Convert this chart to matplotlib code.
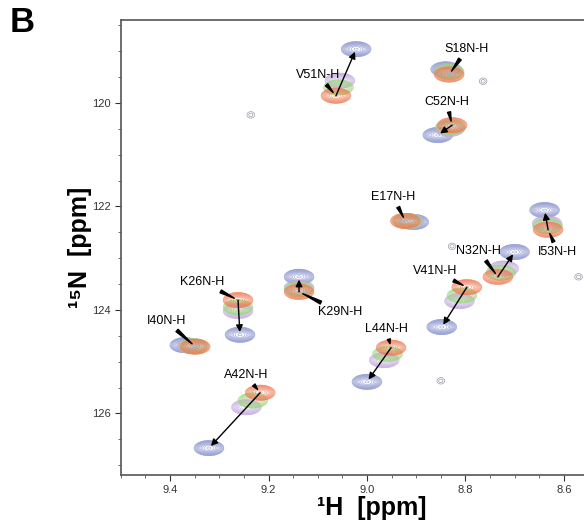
import numpy as np
import matplotlib.pyplot as plt

plt.rcParams['font.family'] = ['Liberation Sans', 'DejaVu Sans']

# residue labels and peak positions (1H ppm, 15N ppm) per titration step
residues = ['V51', 'S18', 'C52', 'E17', 'I53', 'N32', 'V41', 'L44', 'K26', 'K29', 'I40', 'A42']
red_h = [9.063, 8.833, 8.827, 8.922, 8.632, 8.734, 8.797, 8.951, 9.262, 9.138, 9.349, 9.217]
red_n = [119.86, 119.45, 120.43, 122.28, 122.45, 123.36, 123.56, 124.73, 123.81, 123.65, 124.71, 125.60]
green_h = [9.058, 8.833, 8.830, 8.918, 8.633, 8.728, 8.807, 8.958, 9.262, 9.138, 9.352, 9.232]
green_n = [119.70, 119.40, 120.47, 122.28, 122.38, 123.28, 123.72, 124.85, 123.95, 123.60, 124.70, 125.75]
purple_h = [9.055, 8.835, 8.832, 8.915, 8.634, 8.722, 8.812, 8.965, 9.262, 9.138, 9.356, 9.245]
purple_n = [119.57, 119.38, 120.50, 122.29, 122.33, 123.20, 123.83, 124.97, 124.02, 123.57, 124.70, 125.88]
blue_h = [9.022, 8.840, 8.856, 8.905, 8.639, 8.700, 8.848, 9.000, 9.258, 9.138, 9.370, 9.321]
blue_n = [118.96, 119.35, 120.62, 122.30, 122.07, 122.88, 124.33, 125.39, 124.48, 123.36, 124.68, 126.67]
has_arrow = [True, False, True, False, True, True, True, True, True, True, False, True]

# label positions
label_h = [9.099, 8.797, 8.838, 8.947, 8.612, 8.773, 8.862, 8.961, 9.335, 9.055, 9.408, 9.246]
label_n = [119.46, 118.96, 119.98, 121.82, 122.88, 122.86, 123.25, 124.37, 123.46, 124.04, 124.21, 125.26]

# small unassigned / noise peaks
noise_h = [9.236, 8.764, 8.570, 8.827, 8.850]
noise_n = [120.23, 119.58, 123.36, 122.77, 125.37]

fig = plt.figure(figsize=(5.84, 5.27), dpi=100)
ax = fig.add_axes([0.207, 0.0987, 0.793, 0.863])

xlim = (9.471, 8.559)
ylim = (127.19, 118.4)
gx = np.linspace(xlim[1], xlim[0], 800)
gy = np.linspace(ylim[1], ylim[0], 700)
X, Y = np.meshgrid(gx, gy)
levels = np.geomspace(0.08, 0.95, 12)


def spectrum(hs, ns, sx=0.0135, sy=0.066):
    Z = np.zeros_like(X)
    for h, n in zip(hs, ns):
        Z = np.maximum(Z, np.exp(-((X - h) ** 2 / (2 * sx ** 2) + (Y - n) ** 2 / (2 * sy ** 2))))
    return Z


for hs, ns, col in [(blue_h, blue_n, '#8690cc'),
                    (purple_h, purple_n, '#c2a6e0'),
                    (green_h, green_n, '#9ed67e'),
                    (red_h, red_n, '#f07a55')]:
    ax.contour(X, Y, spectrum(hs, ns), levels=levels, colors=col, linewidths=0.35)

ax.contour(X, Y, spectrum(noise_h, noise_n, 0.005, 0.04), levels=[0.3, 0.7],
           colors='#9a9aa8', linewidths=0.5)

# shift arrows from first (red) to last (blue) titration point
for i in range(len(residues)):
    if has_arrow[i]:
        ax.annotate('', xy=(blue_h[i], blue_n[i]), xytext=(red_h[i], red_n[i]),
                    arrowprops=dict(arrowstyle='-|>', color='black', lw=1,
                                    mutation_scale=10, shrinkA=0, shrinkB=2))

# residue labels with wedge pointers
for i, r in enumerate(residues):
    ax.annotate(r + 'N-H', xy=(red_h[i], red_n[i]), xytext=(label_h[i], label_n[i]),
                ha='center', va='center', fontsize=9,
                arrowprops=dict(arrowstyle='wedge,tail_width=0.25', color='black',
                                shrinkA=1, shrinkB=3))

ax.set_xlim(xlim)
ax.set_ylim(ylim)
ax.set_xticks([9.4, 9.2, 9.0, 8.8, 8.6])
ax.set_xticks(np.arange(8.6, 9.5, 0.05), minor=True)
ax.set_yticks([120, 122, 124, 126])
ax.set_yticks(np.arange(118.5, 127.1, 0.5), minor=True)
ax.set_xticklabels(['9.4', '9.2', '9.0', '8.8', '8.6'])
ax.tick_params(which='major', direction='out', length=4, labelsize=8, colors='#333333')
ax.tick_params(which='minor', direction='out', length=2, colors='#555555')
ax.spines['right'].set_visible(False)
for s in ['left', 'top', 'bottom']:
    ax.spines[s].set_color('#555555')
    ax.spines[s].set_linewidth(1.2)

fig.text(0.637, 0.037, '¹H  [ppm]', ha='center', va='center', fontsize=18, fontweight='bold')
fig.text(0.137, 0.531, '¹⁵N  [ppm]', ha='center', va='center', rotation=90,
         fontsize=18, fontweight='bold')
fig.text(0.038, 0.958, 'B', ha='center', va='center', fontsize=25, fontweight='bold')

fig.savefig('out.png', dpi=100)
